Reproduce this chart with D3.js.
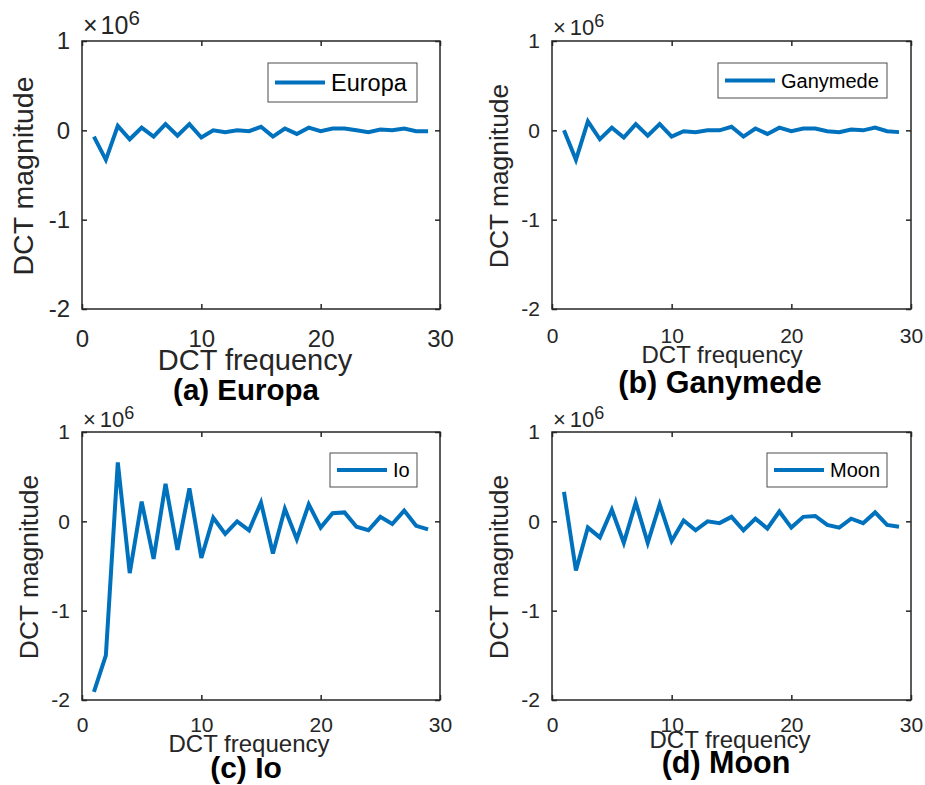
<!DOCTYPE html>
<html>
<head>
<meta charset="utf-8">
<script src="https://cdn.jsdelivr.net/npm/d3@7/dist/d3.min.js"></script>
<style>
body { margin:0; background:#ffffff; }
text { font-family: Arial, "Liberation Sans", Helvetica, sans-serif; }
</style>
</head>
<body>
<svg id="chart" width="925" height="785"></svg>
<script>

// --------------------------------
// data (values in units of 1e6)
// --------------------------------

var frequency = [1,2,3,4,5,6,7,8,9,10,11,12,13,14,15,16,17,18,19,20,21,22,23,24,25,26,27,28,29];

var europa   = [-0.07,-0.33, 0.05,-0.10, 0.03,-0.07, 0.07,-0.06, 0.07,-0.08, 0.00,-0.02, 0.00,-0.01, 0.04,-0.07, 0.02,-0.04, 0.03,-0.01, 0.02, 0.02, 0.00,-0.02, 0.01, 0.00, 0.02,-0.01,-0.01];
var ganymede = [ 0.00,-0.33, 0.10,-0.10, 0.03,-0.08, 0.07,-0.06, 0.07,-0.07,-0.01,-0.02, 0.00, 0.00, 0.04,-0.07, 0.02,-0.04, 0.03,-0.01, 0.02, 0.02,-0.01,-0.02, 0.01, 0.00, 0.03,-0.01,-0.02];
var io       = [-1.91,-1.50, 0.66,-0.58, 0.22,-0.42, 0.42,-0.32, 0.37,-0.41, 0.04,-0.14, 0.00,-0.10, 0.21,-0.36, 0.14,-0.20, 0.19,-0.07, 0.09, 0.10,-0.06,-0.10, 0.05,-0.03, 0.12,-0.05,-0.09];
var moon     = [ 0.33,-0.55,-0.07,-0.18, 0.13,-0.24, 0.21,-0.24, 0.19,-0.22, 0.01,-0.10, 0.00,-0.02, 0.05,-0.10, 0.03,-0.08, 0.11,-0.07, 0.05, 0.06,-0.04,-0.07, 0.03,-0.02, 0.10,-0.04,-0.06];

var xTicks = [0,10,20,30];
var yTicks = [1,0,-1,-2];

var lineColor = "#0072bd";
var inkColor  = "#262626";

// layout of the four sub figures (panel a was exported with larger fonts)
var panels = [
	{ name:"Europa",   values:europa,   title:"(a) Europa",
	  x0:82,  x1:440, y0:41,  y1:309,
	  tickFont:24, tickPad:21, xlabFont:29, xlabX:255, xlabY:370, ylabFont:28.5, ylabX:33,
	  titleFont:29.5, titleX:246, titleY:400, expFont:25, expY:34, expGap:3,
	  leg:{x:268, y:63, w:149, h:39, font:23.5} },
	{ name:"Ganymede", values:ganymede, title:"(b) Ganymede",
	  x0:552, x1:911, y0:41,  y1:309,
	  tickFont:21, tickPad:19, xlabFont:24, xlabX:722, xlabY:363, ylabFont:26.4, ylabX:508,
	  titleFont:30.5, titleX:720, titleY:393, expFont:22, expY:35, expGap:4,
	  leg:{x:718, y:63, w:169, h:35, font:20} },
	{ name:"Io",       values:io,       title:"(c) Io",
	  x0:82,  x1:440, y0:432, y1:700,
	  tickFont:21, tickPad:17, xlabFont:24, xlabX:249, xlabY:752, ylabFont:26.4, ylabX:38,
	  titleFont:30, titleX:246, titleY:778, expFont:22, expY:427, expGap:4,
	  leg:{x:330, y:453, w:87, h:34, font:20} },
	{ name:"Moon",     values:moon,     title:"(d) Moon",
	  x0:552, x1:911, y0:432, y1:700,
	  tickFont:21, tickPad:17, xlabFont:24, xlabX:730, xlabY:748, ylabFont:26.4, ylabX:508,
	  titleFont:30.5, titleX:726, titleY:773, expFont:22, expY:427, expGap:4,
	  leg:{x:767, y:453, w:120, h:34, font:20} }
];

var svg = d3.select("#chart");

function drawPanel(p){

	var g = svg.append("g");

	var x = d3.scaleLinear().domain([0,30]).range([p.x0,p.x1]);
	var y = d3.scaleLinear().domain([-2,1]).range([p.y1,p.y0]);

	// axes, ticks pointing inward on all four sides
	var fmt = function(d){ return String(d); };

	g.append("g")
		.attr("transform","translate("+p.x0+",0)")
		.call(d3.axisLeft(y).tickValues(yTicks).tickSizeInner(-5).tickSizeOuter(0).tickPadding(12).tickFormat(fmt));
	g.append("g")
		.attr("transform","translate("+p.x1+",0)")
		.call(d3.axisRight(y).tickValues(yTicks).tickSizeInner(-5).tickSizeOuter(0).tickFormat(""));
	g.append("g")
		.attr("transform","translate(0,"+p.y1+")")
		.call(d3.axisBottom(x).tickValues(xTicks).tickSizeInner(-5).tickSizeOuter(0).tickPadding(p.tickPad).tickFormat(fmt));
	g.append("g")
		.attr("transform","translate(0,"+p.y0+")")
		.call(d3.axisTop(x).tickValues(xTicks).tickSizeInner(-5).tickSizeOuter(0).tickFormat(""));

	g.selectAll(".domain").remove();
	g.selectAll(".tick line").attr("stroke",inkColor).attr("stroke-width",1.5);
	g.selectAll(".tick text")
		.attr("fill",inkColor)
		.style("font-size",p.tickFont+"px")
		.style("font-family","Arial, 'Liberation Sans', sans-serif");

	// box
	g.append("rect")
		.attr("x",p.x0).attr("y",p.y0)
		.attr("width",p.x1-p.x0).attr("height",p.y1-p.y0)
		.attr("fill","none")
		.attr("stroke",inkColor)
		.attr("stroke-width",1.5);

	// data line
	var line = d3.line()
		.x(function(d,i){ return x(frequency[i]); })
		.y(function(d){ return y(d); });

	g.append("path")
		.datum(p.values)
		.attr("d",line)
		.attr("fill","none")
		.attr("stroke",lineColor)
		.attr("stroke-width",4);

	// exponent label
	var ex = g.append("text")
		.attr("x",p.x0+1)
		.attr("y",p.expY)
		.attr("fill",inkColor)
		.style("font-size",p.expFont+"px");
	ex.append("tspan").text("\u00d7");
	ex.append("tspan").attr("dx",p.expGap).text("10");
	ex.append("tspan").attr("dy",-p.expFont*0.38).style("font-size",(p.expFont*0.82)+"px").text("6");

	// axis labels
	g.append("text")
		.attr("x",p.xlabX).attr("y",p.xlabY)
		.attr("text-anchor","middle")
		.attr("fill",inkColor)
		.style("font-size",p.xlabFont+"px")
		.text("DCT frequency");

	g.append("text")
		.attr("transform","translate("+p.ylabX+","+((p.y0+p.y1)/2+1)+") rotate(-90)")
		.attr("text-anchor","middle")
		.attr("fill",inkColor)
		.style("font-size",p.ylabFont+"px")
		.text("DCT magnitude");

	// legend
	var L = p.leg;
	g.append("rect")
		.attr("x",L.x).attr("y",L.y)
		.attr("width",L.w).attr("height",L.h)
		.attr("fill","#ffffff")
		.attr("stroke","#4d4d4d")
		.attr("stroke-width",1);
	g.append("line")
		.attr("x1",L.x+7).attr("x2",L.x+57)
		.attr("y1",L.y+L.h/2).attr("y2",L.y+L.h/2)
		.attr("stroke",lineColor)
		.attr("stroke-width",4);
	g.append("text")
		.attr("x",L.x+63)
		.attr("y",L.y+L.h/2+L.font*0.36)
		.attr("fill","#000000")
		.style("font-size",L.font+"px")
		.text(p.name);

	// caption
	g.append("text")
		.attr("x",p.titleX).attr("y",p.titleY)
		.attr("text-anchor","middle")
		.attr("fill","#000000")
		.style("font-size",p.titleFont+"px")
		.style("font-weight","bold")
		.text(p.title);
}

panels.forEach(drawPanel);

</script>
</body>
</html>
